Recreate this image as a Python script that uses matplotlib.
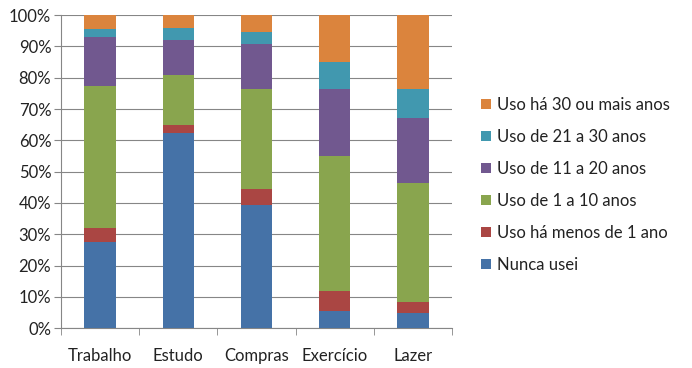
import numpy as np
import matplotlib.pyplot as plt

plt.rcParams['font.family'] = ['Lato', 'DejaVu Sans']

categories = ["Trabalho", "Estudo", "Compras", "Exercício", "Lazer"]
series_names = ["Nunca usei", "Uso há menos de 1 ano", "Uso de 1 a 10 anos",
                "Uso de 11 a 20 anos", "Uso de 21 a 30 anos", "Uso há 30 ou mais anos"]
nunca = [27.7, 62.2, 39.3, 5.6, 4.8]
menos_1 = [4.4, 2.6, 5.2, 6.3, 3.7]
de_1_10 = [45.3, 16.1, 31.9, 43.1, 38.0]
de_11_20 = [15.6, 11.2, 14.3, 21.4, 20.6]
de_21_30 = [2.5, 3.8, 3.9, 8.7, 9.2]
mais_30 = [4.5, 4.1, 5.4, 14.9, 23.7]
colors = ["#4572A7", "#AA4643", "#89A54E", "#71588F", "#4198AF", "#DB843D"]

series = [nunca, menos_1, de_1_10, de_11_20, de_21_30, mais_30]

fig = plt.figure(figsize=(6.92, 3.68), dpi=100)
ax = fig.add_axes([0.0882, 0.108, 0.565, 0.851])

x = np.arange(len(categories))
bottom = np.zeros(len(categories))
handles = []
for name, vals, c in zip(series_names, series, colors):
    vals = np.array(vals)
    h = ax.bar(x, vals, 0.4, bottom=bottom, color=c, label=name, zorder=3)
    handles.append(h)
    bottom += vals

ax.set_xlim(-0.5, len(categories) - 0.5)
ax.set_ylim(0, 100)
ax.set_yticks(np.arange(0, 101, 10))
ax.set_yticklabels([f"{v}%" for v in range(0, 101, 10)])
ax.set_xticks(x)
ax.set_xticklabels(categories)
ax.set_xticks(np.arange(-0.5, len(categories), 1), minor=True)
ax.tick_params(axis='x', which='major', length=0, pad=14, labelsize=12, colors='#222222')
ax.tick_params(axis='x', which='minor', length=5, color='#868686')
ax.tick_params(axis='y', length=5, color='#868686', labelsize=12, labelcolor='#222222', pad=2)
ax.grid(axis='y', color='#868686', linewidth=0.8, zorder=0)
for s in ['top', 'right']:
    ax.spines[s].set_visible(False)
for s in ['left', 'bottom']:
    ax.spines[s].set_color('#868686')

fig.legend(handles[::-1], series_names[::-1], loc='upper left',
           bbox_to_anchor=(0.673, 0.777), frameon=False, fontsize=12,
           handlelength=0.6, handleheight=0.6, handletextpad=0.35,
           labelspacing=0.96, labelcolor='#222222')

fig.savefig("out.png", dpi=100)
